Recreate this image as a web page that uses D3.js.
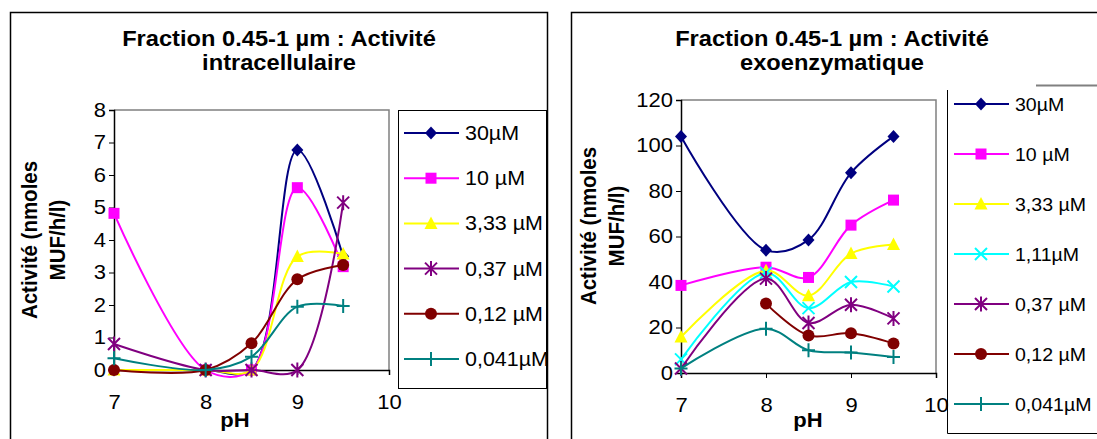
<!DOCTYPE html>
<html>
<head>
<meta charset="utf-8">
<script src="https://cdn.jsdelivr.net/npm/d3@7"></script>
<style>
  html, body { margin: 0; padding: 0; background: #fff; }
  svg { display: block; font-family: Arial, "Liberation Sans", sans-serif; }
</style>
</head>
<body>
<svg id="chart" width="1097" height="439"></svg>
<script>
// ---------------- DATA ----------------
const phValues = [7, 8, 8.5, 9, 9.5];
const xTicks = [7, 8, 9, 10];

// Panel 1: intracellular activity
const intraTitle = ["Fraction 0.45-1 µm : Activité", "intracellulaire"];
const intraLabels = ["30µM", "10 µM", "3,33 µM", "0,37 µM", "0,12 µM", "0,041µM"];
const intra30 = [0, 0, 0, 6.77, 3.5];
const intra10 = [4.82, 0, 0, 5.61, 3.18];
const intra333 = [0, 0, 0, 3.49, 3.57];
const intra037 = [0.8, 0, 0, 0, 5.15];
const intra012 = [0, 0, 0.82, 2.79, 3.23];
const intra0041 = [0.36, 0, 0.41, 1.95, 1.97];
const intraYTicks = [0, 1, 2, 3, 4, 5, 6, 7, 8];

// Panel 2: exoenzymatic activity
const exoTitle = ["Fraction 0.45-1 µm : Activité", "exoenzymatique"];
const exoLabels = ["30µM", "10 µM", "3,33 µM", "1,11µM", "0,37 µM", "0,12 µM", "0,041µM"];
const exo30 = [104, 54, 58.5, 88, 104];
const exo10 = [38.5, 46.5, 42, 65, 76];
const exo333 = [15.8, 45, 34, 52.5, 56.5];
const exo111 = [6, 44, 28.5, 40, 38];
const exo037 = [2, 41.5, 22, 30, 24];
const exo012 = [null, 30.5, 16.5, 17.5, 13];
const exo0041 = [2, 19.5, 10, 9, 7];
const exoYTicks = [0, 20, 40, 60, 80, 100, 120];

const yTitle = ["Activité (nmoles", "MUF/h/l)"];
const xTitle = "pH";

// ---------------- STYLE ----------------
const SX = 1.1; // horizontal stretch of glyphs in the reference
const FONT = 'Arial, "Liberation Sans", sans-serif';
const styles = {
  "30µM":    { color: "#000080", marker: "diamond" },
  "10 µM":   { color: "#FF00FF", marker: "square" },
  "3,33 µM": { color: "#FFFF00", marker: "triangle" },
  "1,11µM":  { color: "#00FFFF", marker: "x" },
  "0,37 µM": { color: "#800080", marker: "star" },
  "0,12 µM": { color: "#800000", marker: "circle" },
  "0,041µM": { color: "#008080", marker: "plus" }
};

const svg = d3.select("#chart");
svg.append("rect").attr("width", 1097).attr("height", 439).attr("fill", "#fff");

function stretchedText(g, x, y, str, size, weight, anchor, rotate, sx) {
  const s = sx || SX;
  return g.append("text")
    .attr("transform", rotate
      ? `translate(${x},${y}) rotate(-90) scale(1,${s})`
      : `translate(${x},${y}) scale(${s},1)`)
    .attr("font-family", FONT)
    .attr("font-size", size)
    .attr("font-weight", weight)
    .attr("text-anchor", anchor)
    .attr("fill", "#000")
    .text(str);
}

function drawMarker(g, type, x, y, color) {
  const m = g.append("g").attr("transform", `translate(${x},${y})`);
  if (type === "diamond") {
    m.append("path").attr("d", "M0,-6.5L6,0L0,6.5L-6,0Z").attr("fill", color);
  } else if (type === "square") {
    m.append("rect").attr("x", -5.5).attr("y", -5.5).attr("width", 11).attr("height", 11).attr("fill", color);
  } else if (type === "triangle") {
    m.append("path").attr("d", "M0,-7L6.5,5.5L-6.5,5.5Z").attr("fill", color);
  } else if (type === "circle") {
    m.append("circle").attr("r", 6).attr("fill", color);
  } else if (type === "x") {
    m.append("path").attr("d", "M-6,-6L6,6M-6,6L6,-6").attr("stroke", color).attr("stroke-width", 2).attr("fill", "none");
  } else if (type === "star") {
    m.append("path").attr("d", "M-6,-6L6,6M-6,6L6,-6M0,-7.5L0,7.5").attr("stroke", color).attr("stroke-width", 2).attr("fill", "none");
  } else if (type === "plus") {
    m.append("path").attr("d", "M-6.5,0L6.5,0M0,-7L0,7").attr("stroke", color).attr("stroke-width", 2).attr("fill", "none");
  }
}

function drawPanel(cfg) {
  const g = svg.append("g");
  const x = d3.scaleLinear().domain([7, 10]).range([cfg.left, cfg.right]);
  const y = d3.scaleLinear().domain([0, cfg.yMax]).range([cfg.bottom, cfg.top]);

  // plot area border (gray top/right)
  g.append("path")
    .attr("d", `M${cfg.left},${cfg.top}H${cfg.right}V${cfg.bottom}`)
    .attr("fill", "none").attr("stroke", "#808080").attr("stroke-width", 1.5);

  // axes
  const yAxis = g.append("g").attr("transform", `translate(${cfg.left},0)`)
    .call(d3.axisLeft(y).tickValues(cfg.yTicks).tickSize(5).tickPadding(3).tickFormat(d3.format("d")));
  const xAxis = g.append("g").attr("transform", `translate(0,${cfg.bottom})`)
    .call(d3.axisBottom(x).tickValues(xTicks).tickSize(5).tickPadding(20).tickFormat(d3.format("d")));
  [yAxis, xAxis].forEach(ax => {
    ax.select(".domain").attr("stroke", "#000").attr("stroke-width", 1.5);
    ax.selectAll(".tick line").attr("stroke", "#000").attr("stroke-width", 1);
    ax.selectAll(".tick text").attr("font-family", FONT).attr("font-size", 20).attr("fill", "#000")
      .attr("transform", `scale(${SX},1)`);
  });
  yAxis.selectAll(".tick text").attr("x", -8 / SX);

  // series
  const line = d3.line()
    .defined(d => d[1] !== null)
    .x(d => x(d[0])).y(d => y(d[1]))
    .curve(d3.curveCatmullRom.alpha(0.5));
  cfg.series.forEach((vals, i) => {
    const st = styles[cfg.labels[i]];
    const pts = phValues.map((p, j) => [p, vals[j]]);
    g.append("path").attr("d", line(pts))
      .attr("fill", "none").attr("stroke", st.color).attr("stroke-width", 2);
    pts.filter(d => d[1] !== null).forEach(d => drawMarker(g, st.marker, x(d[0]), y(d[1]), st.color));
  });

  // titles
  stretchedText(g, cfg.titleX, 46, cfg.title[0], 21.5, "bold", "middle");
  stretchedText(g, cfg.titleX, 70, cfg.title[1], 21.5, "bold", "middle");
  stretchedText(g, cfg.yTitleX, cfg.yTitleY, yTitle[0], 20.5, "bold", "middle", true);
  stretchedText(g, cfg.yTitleX + 28, cfg.yTitleY, yTitle[1], 20.5, "bold", "middle", true);
  stretchedText(g, cfg.xTitleX, 427, xTitle, 20, "bold", "middle");

  // legend
  cfg.labels.forEach((lab, i) => {
    const st = styles[lab];
    const ly = cfg.legY0 + i * cfg.legStep;
    g.append("line").attr("x1", cfg.legX).attr("x2", cfg.legX + 55).attr("y1", ly).attr("y2", ly)
      .attr("stroke", st.color).attr("stroke-width", 2);
    drawMarker(g, st.marker, cfg.legX + 27, ly, st.color);
    stretchedText(g, cfg.legX + 61, ly + 7, lab, cfg.legFont, "normal", "start", false, cfg.legSX);
  });
  return g;
}

// frames
svg.append("path").attr("d", "M10.5,445V12.5H547.5V445").attr("fill", "none").attr("stroke", "#000").attr("stroke-width", 1.5);
svg.append("path").attr("d", "M571.5,445V12.5H1100").attr("fill", "none").attr("stroke", "#000").attr("stroke-width", 1.5);
// left legend box
svg.append("rect").attr("x", 398.5).attr("y", 110.5).attr("width", 148).attr("height", 278)
  .attr("fill", "#fff").attr("stroke", "#000").attr("stroke-width", 1);
// right legend box (partially visible)
svg.append("path").attr("d", "M947.5,90V433.5H1100").attr("fill", "none").attr("stroke", "#000").attr("stroke-width", 1);
svg.append("path").attr("d", "M1036,85.5H1100").attr("fill", "none").attr("stroke", "#808080").attr("stroke-width", 2);

drawPanel({
  left: 114, right: 389, top: 110, bottom: 370, yMax: 8, yTicks: intraYTicks,
  series: [intra30, intra10, intra333, intra037, intra012, intra0041],
  labels: intraLabels, title: intraTitle, titleX: 279,
  yTitleX: 37, yTitleY: 240, xTitleX: 235,
  legX: 404, legY0: 133, legStep: 45.2, legFont: 19.5, legSX: 1.1
});
drawPanel({
  left: 681, right: 936, top: 100, bottom: 373, yMax: 120, yTicks: exoYTicks,
  series: [exo30, exo10, exo333, exo111, exo037, exo012, exo0041],
  labels: exoLabels, title: exoTitle, titleX: 832,
  yTitleX: 596, yTitleY: 226, xTitleX: 808,
  legX: 954, legY0: 104, legStep: 50, legFont: 19, legSX: 1.03
});
</script>
</body>
</html>
